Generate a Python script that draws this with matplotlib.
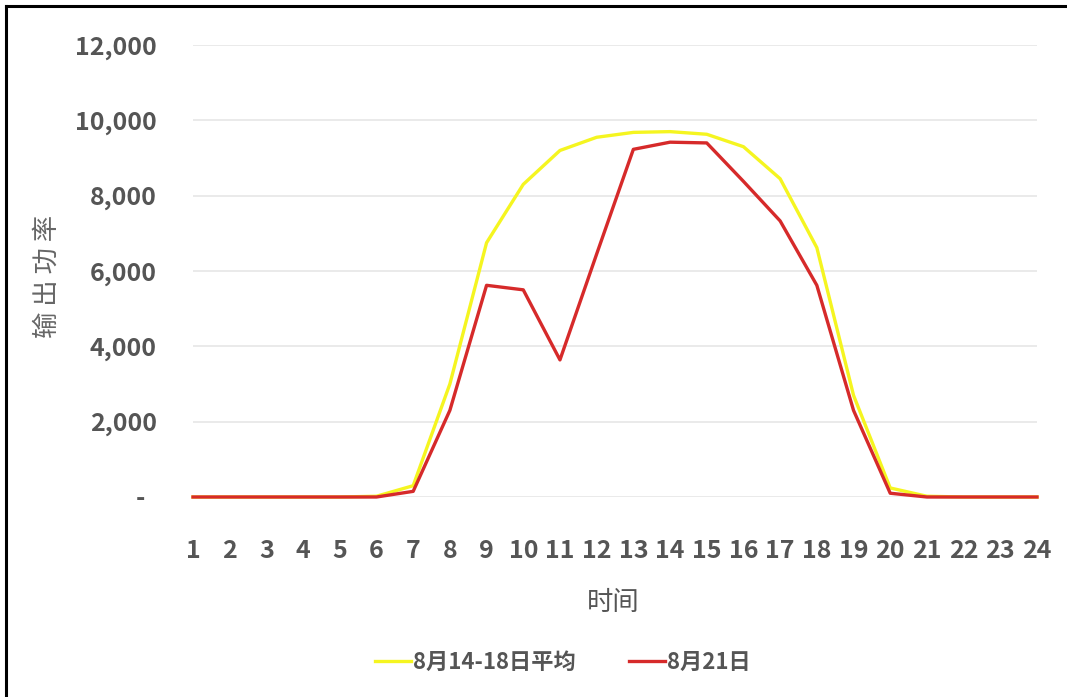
import matplotlib
matplotlib.use('Agg')
import matplotlib.pyplot as plt
from matplotlib.lines import Line2D
from matplotlib.ticker import FuncFormatter

plt.rcParams['font.family'] = ['Noto Sans CJK SC', 'DejaVu Sans']

hours = list(range(1, 25))
avg_14_18 = [0, 0, 0, 0, 0, 20, 300, 3000, 6750, 8300, 9200, 9550,
             9680, 9700, 9630, 9300, 8450, 6620, 2700, 240, 20, 0, 0, 0]
day_21 = [0, 0, 0, 0, 0, 0, 150, 2300, 5620, 5500, 3640, 6450,
          9230, 9420, 9400, 8380, 7330, 5620, 2300, 100, 0, 0, 0, 0]
series_names = ['8月14-18日平均', '8月21日']
yticks = [0, 2000, 4000, 6000, 8000, 10000, 12000]

W, H = 1067, 697
fig = plt.figure(figsize=(W / 100, H / 100), dpi=100)
ax = fig.add_axes([193 / W, 1 - 497 / H, (1037 - 193) / W, (497 - 45) / H])

ax.plot(hours, avg_14_18, color='#f5f520', lw=2.4, label=series_names[0], clip_on=False)
ax.plot(hours, day_21, color='#d62a2a', lw=2.4, label=series_names[1], clip_on=False)

ax.set_xlim(1, 24)
ax.set_ylim(0, 12000)
ax.set_xticks(hours)
ax.set_yticks(yticks)
ax.yaxis.set_major_formatter(FuncFormatter(lambda v, p: '-  ' if v == 0 else '{:,.0f}'.format(v)))
ax.grid(axis='y', color='#e6e6e6', lw=1.2)
ax.set_axisbelow(True)
for s in ax.spines.values():
    s.set_visible(False)
ax.tick_params(axis='both', length=0, labelsize=18, labelcolor='#555555')
ax.tick_params(axis='y', pad=26)
ax.tick_params(axis='x', pad=30)
for lab in ax.get_xticklabels() + ax.get_yticklabels():
    lab.set_fontweight('bold')

fig.text(47 / W, 1 - 276 / H, '输 出 功 率', rotation=90, ha='center', va='center',
         fontsize=19, color='#666666')
fig.text(613 / W, 1 - 603 / H, '时间', ha='center', va='center', fontsize=19, color='#555555')

leg = fig.legend(loc='center', bbox_to_anchor=(563 / W, 1 - 662 / H), ncol=2, frameon=False,
                 fontsize=16, handlelength=1.6, handletextpad=0.1, columnspacing=2.4)
for t in leg.get_texts():
    t.set_color('#555555')
    t.set_fontweight('bold')

# frame on left and top edges
fig.add_artist(Line2D([6 / W, 6 / W], [0, 1 - 6 / H], color='black', lw=2.2))
fig.add_artist(Line2D([6 / W, 1], [1 - 6 / H, 1 - 6 / H], color='black', lw=2.2))

fig.savefig('out.png', dpi=100)
